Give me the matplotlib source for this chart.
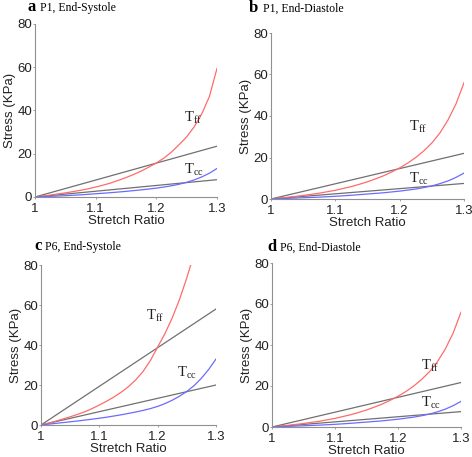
import numpy as np
import matplotlib
matplotlib.use("Agg")
import matplotlib.pyplot as plt

plt.rcParams["font.family"] = ["Liberation Sans", "DejaVu Sans"]
plt.rcParams["mathtext.fontset"] = "custom"
plt.rcParams["mathtext.rm"] = "Liberation Serif"

# stretch ratio sample points (every 0.0125)
stretch = [1.0, 1.0125, 1.025, 1.0375, 1.05, 1.0625, 1.075, 1.0875, 1.1,
           1.1125, 1.125, 1.1375, 1.15, 1.1625, 1.175, 1.1875, 1.2,
           1.2125, 1.225, 1.2375, 1.25, 1.2625, 1.275, 1.2875, 1.3]
# panel c T_ff leaves the plot at 80 KPa before 1.3
stretch_c_ff = stretch[:21] + [1.2566]
line_x = [1.0, 1.3]

# a: P1 end-systole
a_ff = [0, 0.4, 0.9, 1.4, 1.9, 2.5, 3.1, 3.8, 4.6, 5.5, 6.5, 7.7, 9.0,
        10.4, 12.0, 13.8, 15.7, 18.0, 20.8, 24.2, 27.8, 32.5, 38.5, 46.5, 59.5]
a_cc = [0, 0.15, 0.3, 0.45, 0.6, 0.8, 1.0, 1.25, 1.5, 1.75, 2.0, 2.3, 2.6,
        2.95, 3.3, 3.7, 4.1, 4.6, 5.2, 5.9, 6.8, 7.9, 9.3, 11.0, 13.2]
a_lin = [[0, 23.5], [0, 8.0]]
# b: P1 end-diastole
b_ff = [0, 0.4, 0.8, 1.25, 1.7, 2.25, 2.8, 3.5, 4.2, 5.1, 6.0, 7.1, 8.3,
        9.7, 11.2, 13.0, 15.0, 17.3, 20.0, 23.2, 27.0, 31.8, 38.0, 45.8, 56.0]
b_cc = [0, 0.15, 0.3, 0.45, 0.6, 0.75, 0.9, 1.1, 1.3, 1.55, 1.8, 2.1, 2.4,
        2.7, 3.0, 3.4, 3.8, 4.3, 4.8, 5.5, 6.3, 7.4, 8.7, 10.4, 12.5]
b_lin = [[0, 22.0], [0, 7.5]]
# c: P6 end-systole
c_ff = [0, 0.9, 1.9, 3.0, 4.1, 5.3, 6.6, 8.2, 10.0, 11.9, 14.0, 16.4, 19.2,
        22.6, 26.8, 32.2, 39.0, 45.7, 53.6, 62.8, 73.6, 80.0]
c_cc = [0, 0.4, 0.8, 1.2, 1.6, 2.0, 2.45, 2.9, 3.4, 3.9, 4.5, 5.1, 5.8,
        6.5, 7.3, 8.2, 9.3, 10.7, 12.4, 14.4, 16.8, 19.7, 23.4, 27.8, 33.0]
c_lin = [[0, 58.0], [0, 20.0]]
# d: P6 end-diastole
d_ff = [0, 0.4, 0.8, 1.25, 1.7, 2.25, 2.8, 3.5, 4.2, 5.1, 6.0, 7.1, 8.3,
        9.7, 11.2, 13.0, 15.0, 17.3, 20.0, 23.2, 27.0, 31.8, 38.0, 45.8, 56.0]
d_cc = [0, 0.15, 0.3, 0.45, 0.6, 0.75, 0.9, 1.1, 1.3, 1.55, 1.8, 2.1, 2.4,
        2.7, 3.0, 3.4, 3.8, 4.3, 4.8, 5.5, 6.3, 7.4, 8.7, 10.4, 12.5]
d_lin = [[0, 21.7], [0, 7.5]]

W, H = 472, 457

# letter, title, axes rect (px: left, top, right, bottom), title px (letter x, text x, baseline y),
# T_ff / T_cc label positions in data coords
panels = [
    ("a", "P1, End-Systole", (35, 24, 217, 197), (28, 40, 11), stretch, a_ff, a_cc, a_lin,
     (1.245, 36.5), (1.245, 12.5)),
    ("b", "P1, End-Diastole", (271, 33, 464, 199), (249, 263, 12), stretch, b_ff, b_cc, b_lin,
     (1.214, 34.7), (1.214, 10.0)),
    ("c", "P6, End-Systole", (41, 265, 216, 425), (34, 45, 250), stretch_c_ff, c_ff, c_cc, c_lin,
     (1.18, 54.5), (1.233, 26.0)),
    ("d", "P6, End-Diastole", (272, 263, 461, 427), (267, 280, 251), stretch, d_ff, d_cc, d_lin,
     (1.236, 30.0), (1.236, 11.7)),
]

fig = plt.figure(figsize=(W / 100, H / 100), dpi=100)
for letter, title, box, tpos, xff, ff, cc, lin, ff_pos, cc_pos in panels:
    l, t, r, b = box
    ax = fig.add_axes([l / W, 1 - b / H, (r - l) / W, (b - t) / H])
    for ys in lin:
        ax.plot(line_x, ys, color="#707070", lw=0.9)
    ax.plot(xff, ff, color="#ff6b6b", lw=0.9)
    ax.plot(stretch, cc, color="#6b6bff", lw=0.9)
    ax.text(*ff_pos, r"$\mathrm{T}_{\mathrm{ff}}$", fontsize=10.5, color="#222222",
            va="center")
    ax.text(*cc_pos, r"$\mathrm{T}_{\mathrm{cc}}$", fontsize=10.5, color="#222222",
            va="center")
    ax.set_xlim(1.0, 1.3)
    ax.set_ylim(0, 80)
    ax.set_xticks([1.0, 1.1, 1.2, 1.3])
    ax.set_xticklabels(["1", "1.1", "1.2", "1.3"])
    ax.set_yticks([0, 20, 40, 60, 80])
    for s in ("top", "right"):
        ax.spines[s].set_visible(False)
    for s in ("left", "bottom"):
        ax.spines[s].set_color("#909090")
        ax.spines[s].set_linewidth(0.8)
    ax.tick_params(length=1.5, width=0.6, color="#909090", direction="out",
                   labelsize=9.5, labelcolor="#222222")
    ax.tick_params(axis="y", pad=0.5)
    ax.tick_params(axis="x", pad=2.5)
    ax.set_xlabel("Stretch Ratio", fontsize=9.5, color="#222222", labelpad=0)
    ax.set_ylabel("Stress (KPa)", fontsize=9.5, color="#222222", labelpad=1)
    lx, tx, by = tpos
    fig.text(lx / W, 1 - by / H, letter, fontsize=12, fontweight="bold",
             family="Liberation Serif", ha="left", va="baseline")
    fig.text(tx / W, 1 - by / H, title, fontsize=8.5,
             family="Liberation Serif", ha="left", va="baseline")

fig.savefig("out.png", dpi=100)
